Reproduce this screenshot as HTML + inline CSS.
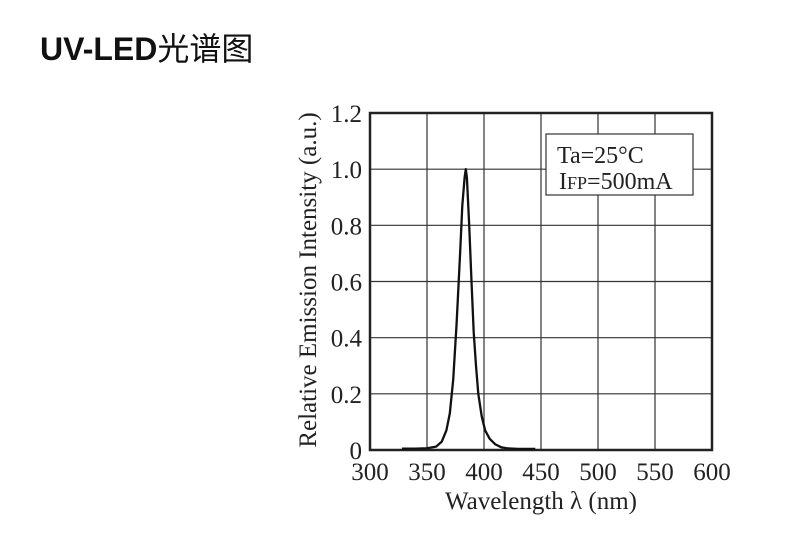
<!DOCTYPE html>
<html><head><meta charset="utf-8"><style>
html,body{margin:0;padding:0;background:#fff;width:800px;height:542px;overflow:hidden}
#title{position:absolute;left:40px;top:24px;font:bold 32px "Liberation Sans","Noto Sans CJK SC",sans-serif;color:#111;white-space:nowrap}
#title span{font-weight:normal;font-size:32px}
svg{position:absolute;left:0;top:0}
text{font-family:"Liberation Serif",serif;fill:#222}
</style></head><body>
<div id="title">UV-LED<span>光谱图</span></div>
<svg id="chart" width="800" height="542"></svg>
<script>
const xTicks=[300,350,400,450,500,550,600];
const yTicks=[0,0.2,0.4,0.6,0.8,1.0,1.2];
const yTickLabels=["0","0.2","0.4","0.6","0.8","1.0","1.2"];
const wavelengths=[328,340,350,358,363,367,370,373,376,379,381,383,384,385,387,389,391,393,395,398,401,405,410,415,420,430,445];
const intensity=[0.005,0.005,0.006,0.012,0.03,0.07,0.13,0.25,0.45,0.7,0.87,0.97,1.0,0.97,0.8,0.6,0.42,0.3,0.2,0.12,0.07,0.04,0.02,0.01,0.006,0.004,0.004];
const L=370,R=712,T=113,B=450;
const xS=v=>L+(v-300)/300*(R-L);
const yS=v=>B-v/1.2*(B-T);
const svg=document.getElementById('chart');
const NS='http://www.w3.org/2000/svg';
function mk(tag,attrs,parent){const e=document.createElementNS(NS,tag);for(const k in attrs)e.setAttribute(k,attrs[k]);(parent||svg).appendChild(e);return e;}
xTicks.forEach((v,i)=>{
  const g=mk('line',{x1:xS(v),x2:xS(v),y1:T,y2:B,stroke:'#333','stroke-width':1.2});
  
  
  const t=mk('text',{x:xS(v),y:480,'text-anchor':'middle','font-size':25});
  t.textContent=v;
  
  
});
yTicks.forEach((v,i)=>{
  const g=mk('line',{x1:L,x2:R,y1:yS(v),y2:yS(v),stroke:'#333','stroke-width':1.2});
  
  
  const t=mk('text',{x:L-8,y:yS(v)+9,'text-anchor':'end','font-size':25});
  t.textContent=yTickLabels[i];
  
  
});
const frame=mk('rect',{x:L,y:T,width:R-L,height:B-T,fill:'none',stroke:'#222','stroke-width':2.5});


const lg=mk('rect',{x:546,y:134,width:147,height:61,fill:'#fff',stroke:'#333','stroke-width':1.2});


const l1=mk('text',{x:557,y:163,'font-size':24});l1.textContent='Ta=25°C';


const l2=mk('text',{x:559,y:189,'font-size':24});
l2.innerHTML='I<tspan font-size="18">FP</tspan>=500mA';


const d=wavelengths.map((w,i)=>(i?'L':'M')+xS(w).toFixed(1)+','+yS(intensity[i]).toFixed(1)).join(' ');
const p=mk('path',{d:d,fill:'none',stroke:'#111','stroke-width':2.3,'stroke-linejoin':'round'});


const xt=mk('text',{x:541,y:509,'text-anchor':'middle','font-size':25});xt.textContent='Wavelength λ (nm)';


const yt=mk('text',{x:0,y:0,'text-anchor':'middle','font-size':25,transform:'translate(316,280) rotate(-90)'});yt.textContent='Relative Emission Intensity (a.u.)';


</script>
</body></html>
